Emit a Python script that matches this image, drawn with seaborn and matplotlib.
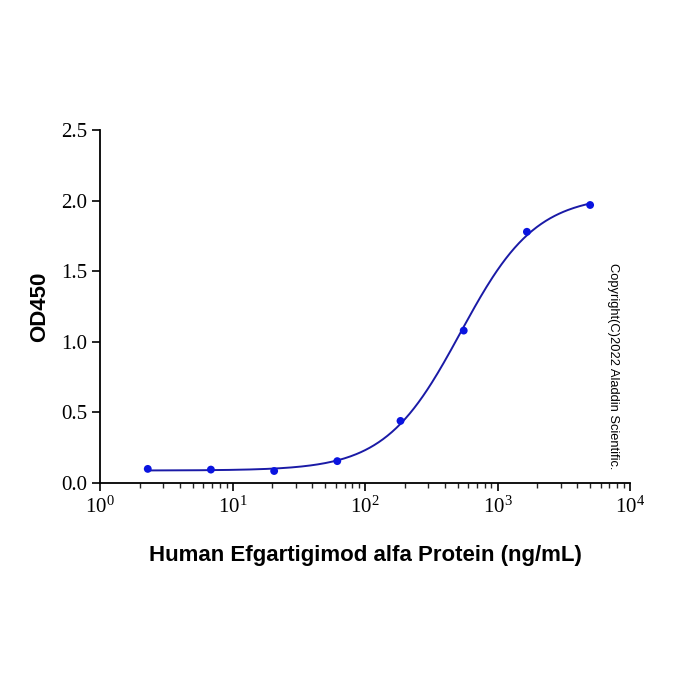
import matplotlib
matplotlib.use("Agg")
import matplotlib.pyplot as plt
import matplotlib.ticker as mticker
import numpy as np
import pandas as pd
import seaborn as sns

# ELISA data, 3-fold dilution series
conc = [2.29, 6.86, 20.6, 61.7, 185.2, 555.6, 1666.7, 5000.0]
od450 = [0.10, 0.095, 0.085, 0.155, 0.44, 1.08, 1.78, 1.97]

sns.set_style("ticks")
plt.rcParams["font.family"] = ["Liberation Serif", "DejaVu Serif"]
plt.rcParams["mathtext.fontset"] = "custom"
plt.rcParams["mathtext.rm"] = "Liberation Serif"
plt.rcParams["mathtext.it"] = "Liberation Serif"
plt.rcParams["text.color"] = "black"
plt.rcParams["axes.labelcolor"] = "black"

df = pd.DataFrame({"conc": conc, "od": od450})

# 4PL fit: grid over ec50/hill, linear least squares for bottom/top
lx = np.array(conc)
ly = np.array(od450)
best = None
for ec50 in np.logspace(2, 3.3, 140):
    for hill in np.linspace(0.8, 2.5, 90):
        s = 1.0 / (1.0 + (ec50 / lx) ** hill)
        A = np.column_stack([np.ones_like(s), s])
        coef, *_ = np.linalg.lstsq(A, ly, rcond=None)
        err = np.sum((A @ coef - ly) ** 2)
        if best is None or err < best[0]:
            best = (err, ec50, hill, coef)
_, ec50, hill, (bottom, span) = best
xs = np.logspace(np.log10(conc[0]), np.log10(conc[-1]), 300)
fit = pd.DataFrame({"conc": xs, "od": bottom + span / (1.0 + (ec50 / xs) ** hill)})

fig = plt.figure(figsize=(7, 7), dpi=100)
ax = fig.add_axes([0.143, 0.31, 0.757, 0.504])

sns.lineplot(data=fit, x="conc", y="od", ax=ax, color="#1a1aa6", linewidth=1.4)
sns.scatterplot(data=df, x="conc", y="od", ax=ax, color="#0a14e0", s=32,
                edgecolor="none", zorder=3)

ax.set_xscale("log")
ax.set_xlim(1, 1e4)
ax.set_ylim(0, 2.5)
ax.set_yticks([0, 0.5, 1.0, 1.5, 2.0, 2.5])
ax.yaxis.set_major_formatter(mticker.FormatStrFormatter("%.1f"))
ax.xaxis.set_major_locator(mticker.LogLocator(base=10, numticks=10))
ax.xaxis.set_minor_locator(mticker.LogLocator(base=10, subs=np.arange(2, 10), numticks=20))
ax.xaxis.set_major_formatter(mticker.LogFormatterMathtext())
ax.xaxis.set_minor_formatter(mticker.NullFormatter())
ax.tick_params(axis="both", which="major", labelsize=15, length=6, width=1.2, direction="out",
               colors="black", labelcolor="black")
ax.tick_params(axis="x", which="minor", length=3.5, width=1.0, direction="out")
for sp in ["left", "bottom"]:
    ax.spines[sp].set_linewidth(1.3)
    ax.spines[sp].set_color("black")
sns.despine(ax=ax)

ax.set_xlabel("Human Efgartigimod alfa Protein (ng/mL)", family="Liberation Sans",
              fontweight="bold", fontsize=16, labelpad=20, color="black")
ax.set_ylabel("OD450", family="Liberation Sans", fontweight="bold", fontsize=16,
              labelpad=8, color="black")

fig.text(0.876, 0.477, "Copyright(C)2022 Aladdin Scientific.", rotation=-90,
         family="Liberation Sans", fontsize=9.3, ha="center", va="center", color="black")

fig.savefig("out.png", dpi=100)
